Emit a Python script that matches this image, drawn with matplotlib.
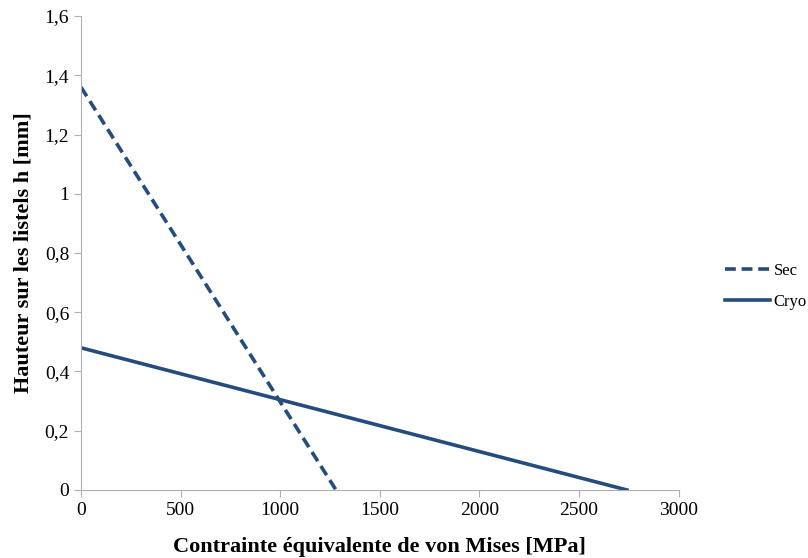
import matplotlib
matplotlib.use("Agg")
import matplotlib.pyplot as plt
from matplotlib.ticker import FuncFormatter

plt.rcParams['font.family'] = ['Liberation Serif', 'DejaVu Serif']

# data
sec_x = [0, 1280]
sec_y = [1.36, 0]
cryo_x = [0, 2740]
cryo_y = [0.48, 0]

color = "#244c7c"

fig = plt.figure(figsize=(8.08, 5.58), dpi=100)
ax = fig.add_axes([0.1002, 0.1219, 0.7398, 0.8494])

ax.plot(sec_x, sec_y, color=color, lw=2.6, ls=(0, (3, 1.6)), label="Sec")
ax.plot(cryo_x, cryo_y, color=color, lw=2.6, label="Cryo")

ax.set_xlim(0, 3000)
ax.set_ylim(0, 1.6)
ax.set_xticks(range(0, 3001, 500))
ax.set_yticks([0, 0.2, 0.4, 0.6, 0.8, 1.0, 1.2, 1.4, 1.6])
ax.yaxis.set_major_formatter(FuncFormatter(lambda v, p: "0" if v == 0 else ("%g" % round(v, 1)).replace(".", ",")))

for s in ["top", "right"]:
    ax.spines[s].set_visible(False)
for s in ["left", "bottom"]:
    ax.spines[s].set_color("#b0b0b0")
ax.tick_params(colors="#b0b0b0", labelcolor="black", labelsize=14, length=5, direction="out")

ax.set_xlabel("Contrainte équivalente de von Mises [MPa]", fontsize=16, fontweight="bold", labelpad=13)
ax.set_ylabel("Hauteur sur les listels h [mm]", fontsize=16, fontweight="bold", labelpad=8)

fig.legend(loc="center left", bbox_to_anchor=(0.879, 0.487), frameon=False,
           fontsize=12, handlelength=2.7, handletextpad=0.2, labelspacing=0.9)

fig.savefig("out.png", dpi=100)
